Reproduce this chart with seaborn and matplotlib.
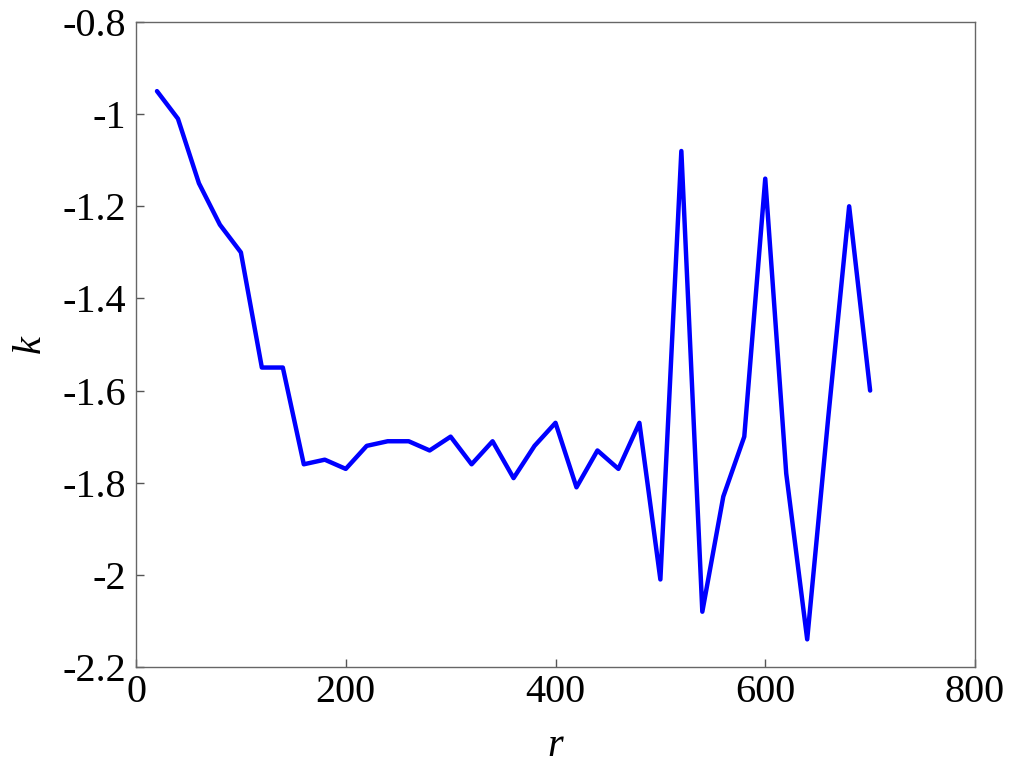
import matplotlib
matplotlib.use("Agg")
import matplotlib.pyplot as plt
import seaborn as sns
import numpy as np
import pandas as pd

r_values = [20, 40, 60, 80, 100, 120, 140, 160, 180, 200,
            220, 240, 260, 280, 300, 320, 340, 360, 380, 400,
            420, 440, 460, 480, 500, 520, 540, 560, 580, 600,
            620, 640, 660, 680, 700]
k_values = [-0.95, -1.01, -1.15, -1.24, -1.30, -1.55, -1.55, -1.76, -1.75, -1.77,
            -1.72, -1.71, -1.71, -1.73, -1.70, -1.76, -1.71, -1.79, -1.72, -1.67,
            -1.81, -1.73, -1.77, -1.67, -2.01, -1.08, -2.08, -1.83, -1.70, -1.14,
            -1.78, -2.14, -1.66, -1.20, -1.60]
x_ticks = [0, 200, 400, 600, 800]
y_ticks = [-2.2, -2.0, -1.8, -1.6, -1.4, -1.2, -1.0, -0.8]
y_tick_labels = ["-2.2", "-2", "-1.8", "-1.6", "-1.4", "-1.2", "-1", "-0.8"]

sns.set_style("white")
plt.rcParams['font.family'] = ['Liberation Serif', 'DejaVu Serif']
plt.rcParams['text.color'] = 'black'
plt.rcParams['axes.labelcolor'] = 'black'
plt.rcParams['xtick.color'] = 'black'
plt.rcParams['ytick.color'] = 'black'

df = pd.DataFrame({"r": r_values, "k": k_values})

fig = plt.figure(figsize=(10.24, 7.69), dpi=100)
ax = fig.add_axes([136/1024, 1 - 667/769, (975 - 136)/1024, (667 - 22)/769])
sns.lineplot(data=df, x="r", y="k", ax=ax, color=(0, 0, 1), linewidth=3.2, sort=False)

ax.set_xlim(0, 800)
ax.set_ylim(-2.2, -0.8)
ax.set_xticks(x_ticks)
ax.set_xticklabels([str(t) for t in x_ticks])
ax.set_yticks(y_ticks)
ax.set_yticklabels(y_tick_labels)
ax.tick_params(axis='both', which='both', direction='in', length=6, width=1,
               color='#555555', labelcolor='black', labelsize=29,
               top=False, right=False, left=True, bottom=True)
ax.tick_params(axis='y', pad=7)
ax.tick_params(axis='x', pad=5)
for s in ax.spines.values():
    s.set_visible(True)
    s.set_color('#666666')
    s.set_linewidth(1)

ax.set_xlabel("r", fontsize=29, style='italic', labelpad=12, color='black')
ax.set_ylabel("k", fontsize=29, style='italic', labelpad=10, color='black')

fig.savefig("out.png", dpi=100, facecolor='white')
